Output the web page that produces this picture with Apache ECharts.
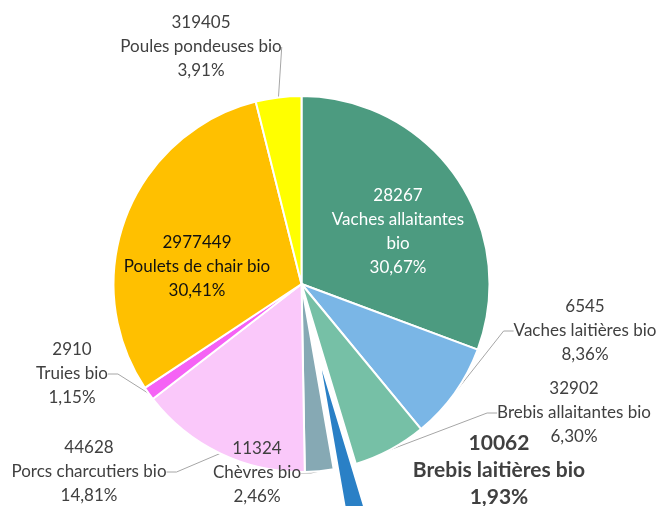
<!DOCTYPE html>
<html><head><meta charset="utf-8">
<script src="https://cdn.jsdelivr.net/npm/echarts@6/dist/echarts.min.js"></script>
<style>html,body{margin:0;padding:0;background:#fff}#c{width:662px;height:506px}</style>
</head><body><div id="c"></div>
<script>
const categories = ["Vaches allaitantes bio","Vaches laitières bio","Brebis allaitantes bio","Brebis laitières bio","Chèvres bio","Porcs charcutiers bio","Truies bio","Poulets de chair bio","Poules pondeuses bio"];
const counts = [28267, 6545, 32902, 10062, 11324, 44628, 2910, 2977449, 319405];
const shares = [30.67, 8.36, 6.30, 1.93, 2.46, 14.81, 1.15, 30.41, 3.91];
const colors = ["#4C9B80","#7AB6E6","#76C0A6","#2A80C6","#86A9B4","#FAC8FA","#F562F5","#FFC000","#FFFF00"];
// label centres (text placement only)
const labelPos = [[398,232],[585,331],[574,413],[499,470],[257,473],[89,472],[72,374],[197,267],[201,47]];
const insideIdx = [0,7];
const boldIdx = 3;
const CENTER = [301.5,284], R = 188, EXPLODE = 72;

const fmtPct = v => v.toFixed(2).replace('.', ',') + '%';
const total = shares.reduce((a,b)=>a+b,0);
const before = shares.slice(0,boldIdx).reduce((a,b)=>a+b,0);
const midAng = (before + shares[boldIdx]/2)/total*2*Math.PI;
const center2 = [CENTER[0]+EXPLODE*Math.sin(midAng), CENTER[1]-EXPLODE*Math.cos(midAng)];

const labelFmt = p=>{
  const i=p.dataIndex;
  const name = i===0 ? 'Vaches allaitantes\nbio' : categories[i];
  return counts[i]+'\n'+name+'\n'+fmtPct(shares[i]);
};
const hidden = {color:'rgba(0,0,0,0)',borderWidth:0};
const dataA = categories.map((n,i)=>({
  name:n, value:shares[i],
  itemStyle: i===boldIdx ? hidden : {color:colors[i]},
  label: i===boldIdx ? {show:false} : i===0 ? {color:'#fff'} : i===7 ? {color:'#111'} : {},
  labelLine: (insideIdx.includes(i)||i===boldIdx) ? {show:false} : {}
}));
const dataB = categories.map((n,i)=>({
  name:n, value:shares[i],
  itemStyle: i===boldIdx ? {color:colors[i]} : hidden,
  label: i===boldIdx ? {fontWeight:'bold',fontSize:21,lineHeight:27} : {show:false},
  labelLine:{show:false}
}));
const common = {
  type:'pie', radius:[0,R], startAngle:90, clockwise:true,
  emphasis:{disabled:true}, silent:true,
  itemStyle:{borderColor:'#fff',borderWidth:2},
  label:{
    show:true, position:'outside', overflow:'none',
    fontFamily:'Lato', fontSize:17, lineHeight:24, color:'#404040', align:'center',
    formatter:labelFmt
  },
  labelLine:{show:true,length:10,length2:10,lineStyle:{color:'#A6A6A6',width:1}},
  labelLayout:p=>{
    const q=labelPos[p.dataIndex];
    return {x:q[0],y:q[1],align:'center',verticalAlign:'middle'};
  }
};
const chart = echarts.init(document.getElementById('c'));
chart.setOption({
  animation:false,
  series:[
    Object.assign({}, common, {center:CENTER, data:dataA}),
    Object.assign({}, common, {center:center2, data:dataB})
  ]
});
</script></body></html>
